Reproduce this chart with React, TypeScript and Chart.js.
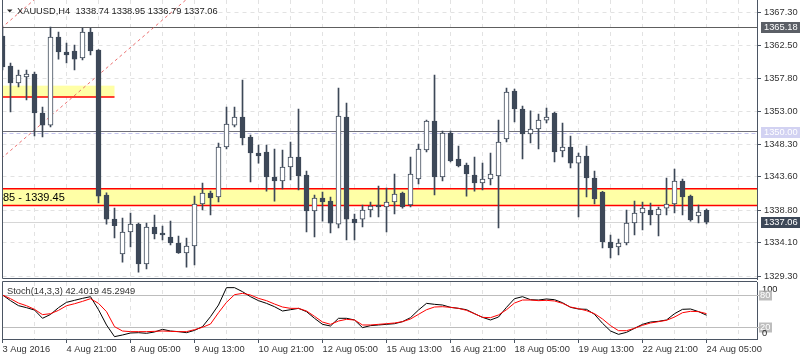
import React, { useEffect, useRef } from 'react';
import { Chart, registerables } from 'chart.js';

Chart.register(...registerables);

// ---------------- data ----------------
const symbolTitle = 'XAUUSD,H4  1338.74 1338.95 1336.79 1337.06';
const stochTitle = 'Stoch(14,3,3) 42.4019 45.2949';

const timeLabels = [
  '3 Aug 2016', '4 Aug 21:00', '8 Aug 05:00', '9 Aug 13:00', '10 Aug 21:00', '12 Aug 05:00',
  '15 Aug 13:00', '16 Aug 21:00', '18 Aug 05:00', '19 Aug 13:00', '22 Aug 21:00', '24 Aug 05:00',
];

const opens = [
  1363.84, 1359.53, 1357.08, 1357.94, 1358.38, 1352.76, 1351.03, 1363.70, 1361.54, 1361.69,
  1360.68, 1364.42, 1361.83, 1340.95, 1337.50, 1332.47, 1335.63, 1336.78, 1331.03, 1336.35,
  1335.49, 1334.92, 1334.05, 1332.61, 1333.62, 1339.66, 1341.24, 1340.67, 1347.87, 1351.03,
  1352.19, 1349.31, 1347.01, 1347.15, 1343.55, 1342.98, 1344.99, 1346.43, 1343.84, 1338.66,
  1340.53, 1340.09, 1336.78, 1352.19, 1337.50, 1337.50, 1338.80, 1339.52, 1339.23, 1339.95,
  1341.24, 1339.52, 1343.26, 1347.44, 1351.61, 1343.55, 1349.88, 1346.14, 1345.28, 1343.84,
  1342.69, 1343.26, 1343.69, 1349.02, 1355.93, 1353.34, 1349.74, 1350.46, 1351.75, 1352.76,
  1347.29, 1347.87, 1345.56, 1346.57, 1343.41, 1341.39, 1334.20, 1333.47, 1334.05, 1336.93,
  1338.37, 1338.80, 1338.08, 1339.08, 1339.66, 1342.97, 1340.81, 1337.94, 1338.74,
];
const highs = [
  1365.14, 1359.96, 1358.95, 1358.95, 1358.66, 1353.63, 1365.14, 1364.42, 1362.84, 1362.55,
  1364.99, 1364.99, 1361.90, 1341.29, 1339.08, 1337.65, 1338.37, 1336.93, 1336.93, 1338.08,
  1336.49, 1337.21, 1335.06, 1334.77, 1340.81, 1342.68, 1341.53, 1348.44, 1353.63, 1353.63,
  1357.51, 1349.59, 1348.16, 1348.16, 1347.58, 1347.44, 1348.58, 1353.34, 1344.41, 1340.95,
  1341.39, 1340.67, 1356.36, 1354.20, 1338.22, 1339.52, 1339.95, 1342.25, 1341.97, 1343.98,
  1341.39, 1346.43, 1348.30, 1351.75, 1358.23, 1350.17, 1350.17, 1348.01, 1345.56, 1346.43,
  1345.56, 1347.01, 1351.75, 1356.36, 1356.22, 1353.77, 1353.06, 1352.62, 1353.49, 1352.91,
  1351.32, 1349.45, 1347.01, 1348.01, 1344.41, 1341.50, 1335.20, 1334.63, 1338.80, 1340.09,
  1339.95, 1339.81, 1339.23, 1343.41, 1344.70, 1343.27, 1340.95, 1339.52, 1338.95,
];
const lows = [
  1358.95, 1352.91, 1356.51, 1354.64, 1349.45, 1349.31, 1350.75, 1360.53, 1359.96, 1358.95,
  1360.39, 1361.11, 1339.81, 1336.78, 1334.77, 1331.31, 1333.48, 1329.87, 1330.31, 1334.63,
  1334.49, 1333.76, 1332.55, 1330.59, 1330.88, 1338.80, 1338.08, 1339.95, 1347.58, 1350.75,
  1348.16, 1342.83, 1345.56, 1341.53, 1340.09, 1341.82, 1343.12, 1341.68, 1335.63, 1334.92,
  1337.21, 1335.49, 1336.21, 1334.48, 1334.48, 1336.35, 1337.79, 1337.79, 1335.63, 1338.22,
  1339.08, 1339.23, 1342.54, 1347.15, 1340.96, 1342.97, 1345.71, 1344.99, 1340.81, 1341.53,
  1341.68, 1342.40, 1336.21, 1348.59, 1351.47, 1346.14, 1348.44, 1347.58, 1351.32, 1345.71,
  1346.43, 1344.85, 1337.79, 1340.67, 1339.66, 1333.33, 1331.89, 1332.32, 1333.76, 1335.20,
  1335.92, 1336.64, 1335.06, 1338.08, 1338.37, 1338.08, 1337.21, 1336.93, 1336.79,
];
const closes = [
  1359.38, 1357.08, 1358.23, 1358.38, 1352.76, 1351.03, 1363.70, 1361.54, 1361.11, 1360.53,
  1364.42, 1361.69, 1340.81, 1337.50, 1336.54, 1335.63, 1336.78, 1331.03, 1336.35, 1335.35,
  1335.20, 1334.05, 1332.61, 1333.62, 1339.66, 1341.24, 1340.53, 1347.87, 1351.18, 1352.19,
  1349.16, 1347.01, 1346.57, 1343.55, 1342.98, 1344.99, 1346.43, 1343.69, 1338.66, 1340.53,
  1339.95, 1336.92, 1352.33, 1337.50, 1336.93, 1338.80, 1339.37, 1339.23, 1339.95, 1341.10,
  1339.23, 1343.98, 1347.58, 1351.61, 1343.55, 1349.88, 1345.85, 1345.13, 1343.98, 1342.69,
  1343.26, 1343.98, 1348.59, 1355.78, 1353.34, 1349.74, 1350.46, 1351.75, 1352.19, 1347.15,
  1347.87, 1345.56, 1346.57, 1343.41, 1340.38, 1334.20, 1333.33, 1334.05, 1336.93, 1338.37,
  1339.08, 1338.08, 1338.95, 1339.66, 1342.97, 1340.67, 1337.36, 1338.52, 1337.06,
];

const stochK = [
  80, 69.4, 60.1, 56.4, 52, 36.6, 43.8, 56.4, 66.3, 70,
  73.7, 76.8, 52.6, 24.2, 2.5, 5.6, 9.3, 9.9, 8.7, 11.2,
  16.1, 13, 11.8, 9.9, 14.2, 21.1, 39.7, 61.3, 93.6, 93.6,
  86.1, 76.8, 69.4, 64.4, 58.2, 50.2, 52.6, 55.1, 49, 36.6,
  25.4, 22.3, 36.6, 36.6, 33.5, 19.3, 23, 24.2, 25.4, 26.6,
  30.4, 37.8, 52, 64.4, 62.6, 61.3, 57, 55.1, 52.6, 45.2,
  38.4, 33.5, 39, 57, 73.1, 76.8, 71.2, 70.6, 72.5, 71.2,
  65.6, 57, 53.9, 53.3, 44, 27.3, 13, 6.8, 10.5, 18,
  25.4, 29.7, 31, 33.5, 45.2, 53.3, 53.9, 49, 42.4019,
];
const stochD = [
  79.9, 73.1, 65, 60, 53.3, 43.4, 45.2, 51.4, 60, 63.7,
  68.1, 73.1, 64.4, 49, 21.1, 13, 11.8, 11.8, 11.8, 12.4,
  13, 12.4, 11.8, 11.8, 15.5, 19.9, 26, 47, 66.3, 80.5,
  83, 79.9, 73.7, 69.4, 63.2, 57.6, 55.1, 55.1, 50.2, 40.3,
  29.7, 25.4, 31.6, 34.7, 33.5, 24.2, 24.2, 25.4, 26.6, 27.9,
  30.4, 35.3, 44, 52.6, 57.6, 58.2, 57, 55.1, 51.4, 45.2,
  38.4, 37.8, 42.8, 52.6, 65, 70.6, 70.6, 69.4, 70, 68.8,
  64.4, 57.6, 54.5, 50.8, 45.2, 35.3, 23, 13.6, 13.6, 18,
  23.6, 27.9, 30.4, 32.9, 39, 47, 49.6, 49, 45.2949,
];

const priceTicks = [1329.3, 1334.1, 1338.8, 1343.6, 1348.3, 1353.0, 1357.8, 1362.5, 1367.3];
const stochLevels = [80, 20];

const supportZone = [1339.45, 1341.85];
const supportZoneLabel = '85 - 1339.45';
const upperZone = [1355.05, 1356.7];
const upperZoneEndIndex = 14;
const resistanceLine = 1365.18;
const roundNumberLine = 1350.0;
const bidPrice = 1337.06;
const channelSlope = 0.989; // price per bar
const channelLower = [5, 1351.32]; // [bar index, price]
const channelUpper = [0, 1365.14];

// ---------------- style ----------------
const CANDLE = '#3d4858';
const AXIS = '#4b5563';
const GRID = '#e2e2e2';
const TEXT = '#333333';
const ZONE_FILL = '#ffffa6';
const FONT = "'Liberation Sans', Arial, sans-serif";
const FS = 9.3;
const X_MIN = 0;
const X_MAX = 94.31;
const PRICE_MIN = 1328.87;
const PRICE_MAX = 1369.03;
const gridIdx = Array.from({ length: 24 }, (_, k) => k * 4);

const fontStr = (size: number) => `${size}px ${FONT}`;

const mainOverlay = {
  id: 'mainOverlay',
  beforeDatasetsDraw(chart: any) {
    const { ctx, chartArea: a, scales } = chart;
    const x = scales.x;
    const y = scales.y;
    const W = a.right - a.left;
    ctx.save();
    ctx.beginPath();
    ctx.rect(a.left, a.top, W, a.bottom - a.top);
    ctx.clip();

    const hline = (py: number, x0: number, x1: number, color: string, width: number, dash: number[] = []) => {
      ctx.save();
      ctx.strokeStyle = color;
      ctx.lineWidth = width;
      ctx.setLineDash(dash);
      ctx.beginPath();
      ctx.moveTo(x0, py);
      ctx.lineTo(x1, py);
      ctx.stroke();
      ctx.restore();
    };

    // zones
    const sTop = y.getPixelForValue(supportZone[1]);
    const sBot = y.getPixelForValue(supportZone[0]);
    ctx.fillStyle = ZONE_FILL;
    ctx.fillRect(a.left, sTop, W, sBot - sTop);
    const uTop = y.getPixelForValue(upperZone[1]);
    const uBot = y.getPixelForValue(upperZone[0]);
    const uRight = x.getPixelForValue(upperZoneEndIndex);
    ctx.fillRect(a.left, uTop, uRight - a.left, uBot - uTop);
    hline(sTop, a.left, a.right, '#ff0000', 1.5);
    hline(sBot, a.left, a.right, '#ff0000', 1.5);
    hline(uBot, a.left, uRight, '#ff0000', 1.5);

    // horizontal levels
    const rY = Math.round(y.getPixelForValue(resistanceLine)) + 0.5;
    hline(rY, a.left, a.right, '#5e5e5e', 1);
    const nY = Math.round(y.getPixelForValue(roundNumberLine)) + 0.5;
    hline(nY - 1, a.left, a.right, '#6f6f78', 1);
    hline(nY + 1, a.left, a.right, '#c4c4ee', 1, [4, 3]);
    const bY = Math.round(y.getPixelForValue(bidPrice)) + 0.5;
    hline(bY, a.left, a.right, '#d6d6d6', 1);

    // channel lines
    ctx.save();
    ctx.strokeStyle = 'rgba(232,96,96,0.9)';
    ctx.lineWidth = 1;
    ctx.setLineDash([3, 3]);
    [channelLower, channelUpper].forEach(([i0, p0]) => {
      const f = (i: number) => p0 + channelSlope * (i - i0);
      ctx.beginPath();
      ctx.moveTo(x.getPixelForValue(-3), y.getPixelForValue(f(-3)));
      ctx.lineTo(x.getPixelForValue(60), y.getPixelForValue(f(60)));
      ctx.stroke();
    });
    ctx.restore();

    // zone label
    ctx.fillStyle = '#000000';
    ctx.font = fontStr(11);
    ctx.textBaseline = 'middle';
    ctx.textAlign = 'left';
    ctx.fillText(supportZoneLabel, a.left + 0.5, (sTop + sBot) / 2 + 0.5);
    ctx.restore();
  },
  afterDraw(chart: any) {
    const { ctx, chartArea: a, scales } = chart;
    const y = scales.y;
    ctx.save();
    // frame
    ctx.strokeStyle = AXIS;
    ctx.lineWidth = 1;
    ctx.beginPath();
    ctx.moveTo(a.left, 0);
    ctx.lineTo(a.left, a.bottom - 0.5);
    ctx.lineTo(a.right, a.bottom - 0.5);
    ctx.stroke();

    // title
    ctx.fillStyle = '#2b2b2b';
    ctx.beginPath();
    ctx.moveTo(7, 9.5);
    ctx.lineTo(12.5, 9.5);
    ctx.lineTo(9.75, 12.5);
    ctx.closePath();
    ctx.fill();
    ctx.font = fontStr(FS);
    ctx.textBaseline = 'middle';
    ctx.textAlign = 'left';
    ctx.fillStyle = '#222222';
    ctx.fillText(symbolTitle, 17, 11);

    // price boxes on the axis
    const box = (price: number, bg: string) => {
      const py = Math.round(y.getPixelForValue(price));
      ctx.fillStyle = bg;
      ctx.fillRect(a.right + 4, py - 5, 800 - a.right - 4, 11);
      ctx.fillStyle = '#ffffff';
      ctx.fillText(price.toFixed(2), a.right + 7, py + 0.5);
    };
    box(resistanceLine, '#5b5f66');
    box(roundNumberLine, '#d2d2f2');
    box(bidPrice, '#3d4858');
    ctx.restore();
  },
};

const stochOverlay = {
  id: 'stochOverlay',
  beforeDatasetsDraw(chart: any) {
    const { ctx, chartArea: a, scales } = chart;
    const y = scales.y;
    ctx.save();
    ctx.strokeStyle = '#bdbdbd';
    ctx.lineWidth = 1;
    stochLevels.forEach((lv) => {
      const py = Math.round(y.getPixelForValue(lv)) + 0.5;
      ctx.beginPath();
      ctx.moveTo(a.left, py);
      ctx.lineTo(a.right + 3, py);
      ctx.stroke();
    });
    ctx.restore();
  },
  afterDraw(chart: any) {
    const { ctx, chartArea: a, scales } = chart;
    const y = scales.y;
    ctx.save();
    ctx.strokeStyle = AXIS;
    ctx.lineWidth = 1;
    ctx.beginPath();
    ctx.moveTo(a.left, a.bottom);
    ctx.lineTo(a.left, a.top - 0.5);
    ctx.lineTo(a.right, a.top - 0.5);
    ctx.stroke();

    ctx.font = fontStr(FS);
    ctx.textAlign = 'left';
    ctx.fillStyle = TEXT;
    ctx.textBaseline = 'middle';
    ctx.fillText(stochTitle, 7, a.top + 9.5);

    // scale labels
    ctx.fillStyle = '#222222';
    ctx.textBaseline = 'top';
    ctx.fillText('100', a.right + 5, y.getPixelForValue(100) + 0.5);
    stochLevels.forEach((lv) => {
      const py = Math.round(y.getPixelForValue(lv));
      ctx.fillStyle = 'rgba(178,178,178,0.85)';
      ctx.fillRect(a.right + 2, py - 4.5, 13, 10);
      ctx.fillStyle = '#ffffff';
      ctx.textBaseline = 'middle';
      ctx.fillText(String(lv), a.right + 3, py + 0.5);
    });
    ctx.fillStyle = '#222222';
    ctx.textBaseline = 'alphabetic';
    ctx.fillText('0', a.right + 5, y.getPixelForValue(0) - 2);
    ctx.restore();
  },
};

export default function App() {
  const mainRef = useRef<HTMLCanvasElement>(null);
  const stochRef = useRef<HTMLCanvasElement>(null);

  useEffect(() => {
    document.body.style.margin = '0';
    const idx = opens.map((_, i) => i);
    const bull = idx.map((i) => closes[i] >= opens[i]);

    const main = new Chart(mainRef.current as HTMLCanvasElement, {
      type: 'bar',
      data: {
        datasets: [
          {
            data: idx.map((i) => ({ x: i, y: [opens[i], closes[i]] })) as any,
            backgroundColor: bull.map((b) => (b ? '#ffffff' : CANDLE)),
            borderColor: CANDLE,
            borderWidth: 1,
            borderSkipped: false,
            barThickness: 5,
            grouped: false,
          } as any,
          {
            data: idx.map((i) => ({ x: i, y: [lows[i], highs[i]] })) as any,
            backgroundColor: CANDLE,
            borderWidth: 0,
            barThickness: 1,
            grouped: false,
          } as any,
        ],
      },
      options: {
        responsive: false,
        animation: false,
        devicePixelRatio: 1,
        layout: { padding: { left: 2.5, top: 0, right: 0, bottom: 1 } },
        plugins: { legend: { display: false }, tooltip: { enabled: false } },
        scales: {
          x: {
            type: 'linear',
            min: X_MIN,
            max: X_MAX,
            offset: false,
            afterBuildTicks: (s: any) => {
              s.ticks = gridIdx.map((v) => ({ value: v }));
            },
            ticks: { display: false },
            grid: { offset: false, color: GRID, drawTicks: false },
            border: { display: false, dash: [4, 4] },
            afterFit: (s: any) => {
              s.height = 0;
              s.paddingLeft = 0;
              s.paddingRight = 0;
            },
          } as any,
          y: {
            type: 'linear',
            position: 'right',
            min: PRICE_MIN,
            max: PRICE_MAX,
            afterBuildTicks: (s: any) => {
              s.ticks = priceTicks.map((v) => ({ value: v }));
            },
            ticks: {
              callback: (v: any) => Number(v).toFixed(2),
              color: TEXT,
              font: { family: FONT, size: FS },
              padding: 3,
              autoSkip: false,
            },
            grid: { color: GRID, tickLength: 4, tickColor: AXIS, tickBorderDash: [] },
            border: { display: true, color: AXIS, dash: [4, 4] },
            afterFit: (s: any) => {
              s.width = 43;
              s.paddingTop = 0;
              s.paddingBottom = 0;
            },
          } as any,
        },
      },
      plugins: [mainOverlay],
    });

    const stoch = new Chart(stochRef.current as HTMLCanvasElement, {
      type: 'line',
      data: {
        datasets: [
          {
            data: idx.map((i) => ({ x: i, y: stochD[i] })),
            borderColor: '#ff0000',
            borderWidth: 1,
            pointRadius: 0,
            tension: 0,
            fill: false,
          },
          {
            data: idx.map((i) => ({ x: i, y: stochK[i] })),
            borderColor: '#000000',
            borderWidth: 1,
            pointRadius: 0,
            tension: 0,
            fill: false,
          },
        ],
      },
      options: {
        responsive: false,
        animation: false,
        devicePixelRatio: 1,
        layout: { padding: { left: 2.5, top: 2, right: 0, bottom: 0 } },
        plugins: { legend: { display: false }, tooltip: { enabled: false } },
        scales: {
          x: {
            type: 'linear',
            min: X_MIN,
            max: X_MAX,
            offset: false,
            afterBuildTicks: (s: any) => {
              s.ticks = gridIdx.map((v) => ({ value: v }));
            },
            ticks: {
              autoSkip: false,
              maxRotation: 0,
              minRotation: 0,
              align: 'start',
              padding: 1,
              color: TEXT,
              font: { family: FONT, size: FS },
              callback: (v: any) => (Number(v) % 8 === 0 ? timeLabels[Number(v) / 8] ?? '' : ''),
            },
            grid: {
              offset: false,
              color: GRID,
              tickLength: 4,
              tickBorderDash: [],
              tickColor: (c: any) => (c.tick && c.tick.value % 8 === 0 ? AXIS : 'rgba(0,0,0,0)'),
            },
            border: { display: true, color: AXIS, dash: [4, 4] },
            afterFit: (s: any) => {
              s.height = 21;
              s.paddingLeft = 0;
              s.paddingRight = 0;
            },
          } as any,
          y: {
            type: 'linear',
            position: 'right',
            min: -1.86,
            max: 104.1,
            ticks: { display: false },
            grid: { display: false },
            border: { display: true, color: AXIS },
            afterFit: (s: any) => {
              s.width = 43;
              s.paddingTop = 0;
              s.paddingBottom = 0;
            },
          } as any,
        },
      },
      plugins: [stochOverlay],
    });

    return () => {
      main.destroy();
      stoch.destroy();
    };
  }, []);

  return (
    <div style={{ position: 'absolute', left: 0, top: 0, width: 800, height: 360, background: '#ffffff' }}>
      <canvas
        ref={mainRef}
        width={800}
        height={280}
        style={{ position: 'absolute', left: 0, top: 0, width: 800, height: 280 }}
      />
      <canvas
        ref={stochRef}
        width={800}
        height={80}
        style={{ position: 'absolute', left: 0, top: 280, width: 800, height: 80 }}
      />
    </div>
  );
}
